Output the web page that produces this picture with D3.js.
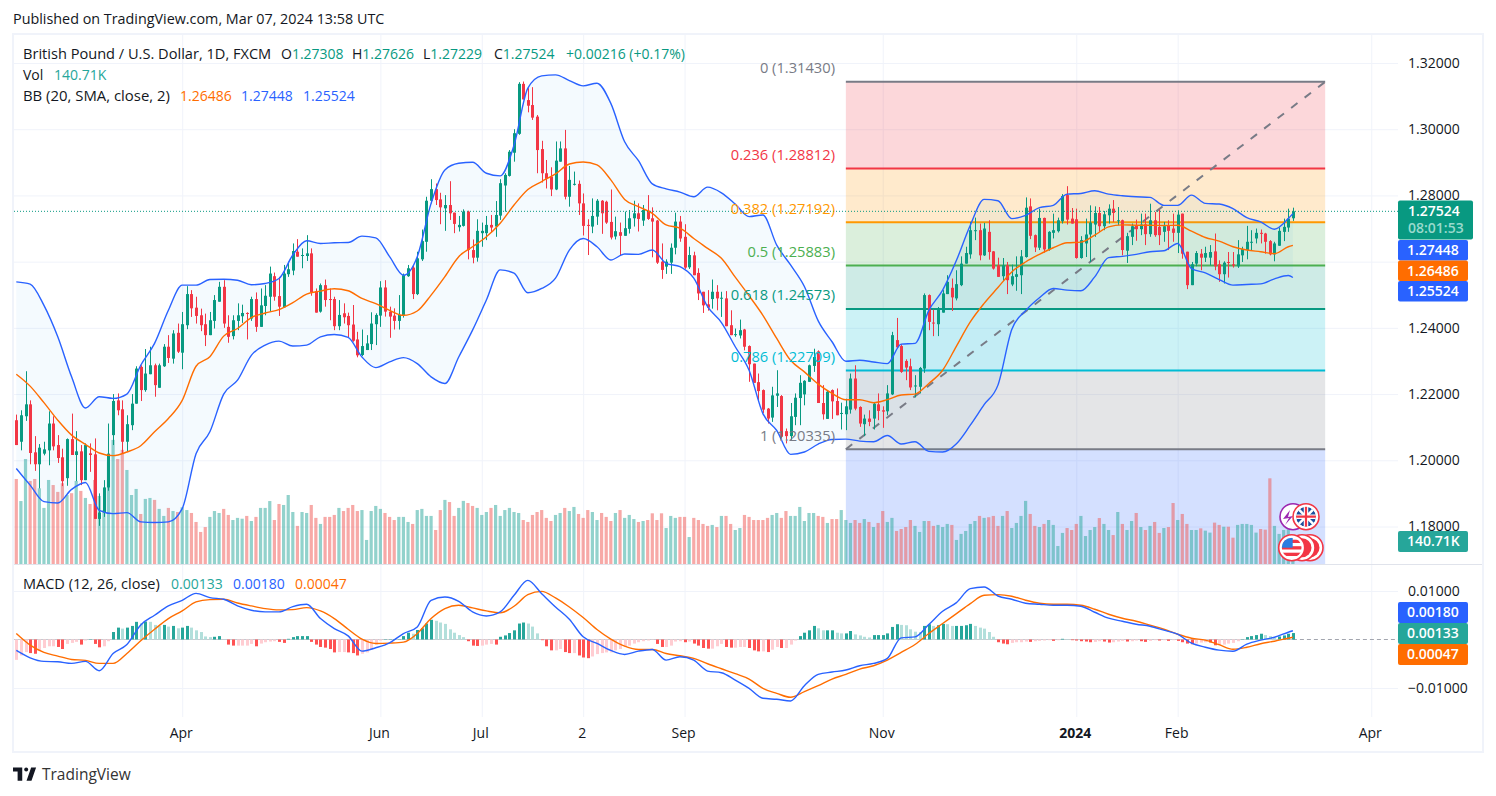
<!DOCTYPE html>
<html>
<head>
<meta charset="utf-8">
<title>GBP/USD daily</title>
<script src="https://cdnjs.cloudflare.com/ajax/libs/d3/7.8.5/d3.min.js"></script>
<style>
html,body{margin:0;padding:0;background:#fff;}
svg{display:block;font-family:"Open Sans",sans-serif;}
svg text{fill:#131722;font-size:14px;}
.tick line{stroke:#f0f3fa;}
.domain{display:none;}
</style>
</head>
<body>
<svg id="chart" width="1496" height="796"></svg>
<script>
// Daily OHLC in pips (price x 10000), oldest bar first.
const opens=[
12121,12056,12133,12169,12024,11988,12020,12030,12111,12046,
12009,11946,12064,12016,12027,11940,12021,12018,11823,11842,
11918,12076,12181,12154,12056,12106,12171,12282,12212,12260,
12287,12219,12284,12343,12307,12385,12325,12408,12502,12461,
12438,12411,12378,12421,12479,12524,12403,12375,12421,12435,
12445,12428,12487,12403,12466,12494,12556,12496,12462,12562,
12573,12630,12618,12617,12625,12511,12449,12529,12487,12487,
12405,12444,12436,12410,12365,12318,12333,12351,12411,12437,
12522,12449,12437,12421,12437,12556,12582,12502,12607,12660,
12784,12819,12788,12761,12771,12748,12704,12708,12751,12635,
12612,12686,12686,12711,12706,12739,12830,12859,12929,12986,
13137,13088,13073,13038,12940,12867,12857,12818,12902,12942,
12796,12833,12835,12776,12711,12706,12736,12784,12781,12720,
12676,12689,12678,12699,12731,12746,12724,12754,12731,12724,
12600,12585,12597,12642,12721,12675,12583,12619,12566,12509,
12471,12487,12509,12489,12489,12408,12379,12377,12395,12345,
12292,12236,12212,12156,12129,12195,12194,12088,12073,12131,
12188,12199,12237,12285,12329,12173,12125,12212,12179,12141,
12139,12153,12247,12161,12109,12126,12126,12169,12151,12148,
12199,12363,12345,12300,12284,12224,12222,12277,12499,12416,
12411,12446,12502,12521,12489,12529,12594,12622,12693,12695,
12619,12690,12631,12589,12556,12589,12531,12554,12559,12614,
12767,12680,12642,12732,12637,12687,12692,12722,12801,12730,
12728,12611,12655,12682,12712,12747,12707,12740,12760,12723,
12725,12633,12675,12708,12698,12713,12683,12725,12705,12690,
12708,12700,12687,12745,12630,12529,12594,12624,12612,12612,
12631,12592,12562,12599,12592,12586,12619,12635,12658,12670,
12687,12685,12662,12622,12648,12690,12703,12731];
const closes=[
12046,12136,12169,12022,11988,12038,12033,12111,12042,12007,
11937,12064,12016,12027,11940,12046,12016,11823,11842,11918,
12020,12179,12151,12056,12109,12171,12277,12212,12262,12287,
12227,12287,12343,12309,12383,12328,12411,12502,12459,12436,
12408,12378,12423,12484,12524,12413,12373,12423,12438,12445,
12443,12487,12403,12468,12497,12564,12494,12464,12564,12577,
12632,12615,12620,12625,12508,12446,12529,12484,12484,12405,
12439,12432,12408,12361,12317,12345,12353,12413,12439,12522,
12449,12434,12421,12439,12559,12580,12502,12610,12662,12784,
12819,12786,12764,12771,12746,12714,12711,12751,12635,12612,
12693,12693,12711,12703,12741,12837,12862,12932,12988,13137,
13090,13071,13035,12937,12867,12850,12818,12905,12942,12796,
12847,12835,12776,12708,12709,12738,12784,12746,12718,12673,
12692,12678,12701,12731,12746,12729,12756,12729,12721,12597,
12575,12600,12642,12721,12670,12582,12620,12559,12504,12468,
12461,12509,12489,12491,12405,12378,12381,12393,12343,12290,
12234,12209,12153,12126,12196,12202,12071,12073,12133,12189,
12234,12240,12287,12312,12173,12139,12207,12178,12136,12143,
12163,12247,12156,12111,12126,12116,12171,12149,12147,12202,
12378,12341,12267,12280,12220,12226,12279,12499,12418,12414,
12458,12504,12539,12492,12532,12594,12626,12695,12695,12619,
12700,12629,12579,12554,12589,12544,12556,12562,12616,12763,
12678,12643,12732,12637,12690,12695,12725,12798,12727,12715,
12611,12665,12682,12718,12747,12707,12743,12760,12747,12725,
12635,12677,12707,12698,12712,12683,12725,12680,12680,12707,
12693,12687,12742,12624,12529,12592,12626,12612,12626,12629,
12586,12562,12597,12597,12588,12622,12638,12660,12660,12687,
12685,12660,12622,12655,12693,12705,12730,12752];
const highs=[
12138,12151,12269,12181,12073,12049,12056,12148,12133,12076,
12035,12066,12141,12088,12046,12051,12051,12066,11900,11940,
12111,12200,12202,12181,12136,12200,12284,12287,12336,12343,
12292,12292,12351,12378,12393,12413,12448,12526,12514,12494,
12458,12443,12448,12499,12539,12544,12438,12438,12474,12470,
12447,12494,12507,12519,12529,12585,12567,12554,12590,12600,
12655,12668,12640,12680,12640,12519,12534,12546,12519,12494,
12484,12474,12446,12469,12388,12395,12378,12447,12444,12541,
12544,12464,12459,12499,12564,12590,12590,12630,12697,12796,
12849,12836,12808,12801,12843,12748,12738,12758,12754,12667,
12728,12718,12738,12741,12783,12849,12867,12937,13000,13142,
13144,13124,13127,13043,12965,12907,12885,12963,12963,12998,
12889,12872,12845,12806,12728,12791,12789,12786,12784,12818,
12736,12718,12751,12756,12784,12776,12771,12801,12764,12726,
12655,12607,12655,12748,12738,12713,12645,12630,12580,12509,
12514,12546,12529,12509,12511,12453,12398,12425,12397,12347,
12292,12262,12214,12158,12222,12272,12197,12096,12173,12202,
12257,12242,12289,12337,12332,12227,12212,12214,12217,12174,
12186,12262,12287,12163,12138,12151,12176,12202,12163,12227,
12388,12430,12351,12305,12307,12257,12282,12504,12501,12455,
12463,12514,12559,12549,12574,12616,12645,12720,12733,12715,
12717,12725,12632,12612,12611,12599,12591,12616,12635,12794,
12791,12682,12760,12733,12692,12745,12733,12804,12828,12762,
12760,12677,12730,12770,12767,12765,12753,12773,12786,12765,
12727,12687,12715,12727,12745,12745,12775,12750,12757,12720,
12725,12745,12755,12745,12630,12599,12632,12638,12645,12650,
12685,12604,12601,12629,12629,12665,12645,12708,12695,12700,
12697,12687,12665,12660,12703,12730,12760,12763];
const lows=[
12046,12030,12119,11988,11968,11915,12015,11985,12030,11992,
11922,11923,12016,11937,11925,11940,11965,11823,11802,11829,
11908,12046,12136,12020,12028,12091,12171,12179,12207,12260,
12192,12219,12282,12294,12292,12324,12275,12396,12433,12413,
12390,12345,12378,12398,12479,12400,12355,12365,12393,12415,
12365,12421,12388,12403,12438,12449,12482,12436,12461,12554,
12559,12615,12580,12602,12497,12446,12446,12464,12423,12393,
12393,12413,12371,12358,12311,12315,12333,12333,12348,12403,
12434,12370,12395,12395,12431,12554,12487,12499,12602,12630,
12776,12771,12713,12693,12726,12686,12691,12706,12607,12595,
12600,12645,12665,12688,12675,12726,12751,12857,12902,12983,
13090,13051,13028,12867,12839,12821,12798,12816,12902,12788,
12766,12830,12741,12679,12620,12686,12711,12684,12714,12667,
12667,12617,12678,12685,12706,12691,12708,12726,12613,12593,
12548,12563,12563,12622,12660,12578,12578,12559,12484,12445,
12452,12458,12453,12433,12405,12378,12373,12368,12332,12237,
12234,12181,12143,12111,12116,12161,12066,12051,12061,12106,
12106,12166,12237,12267,12173,12123,12125,12125,12136,12093,
12091,12141,12151,12101,12073,12103,12093,12121,12098,12136,
12197,12338,12264,12242,12212,12190,12202,12264,12393,12375,
12375,12446,12502,12451,12483,12526,12594,12609,12665,12604,
12617,12606,12576,12554,12542,12502,12526,12512,12502,12612,
12668,12629,12635,12627,12633,12670,12688,12715,12712,12715,
12609,12609,12614,12599,12675,12690,12695,12715,12720,12710,
12619,12596,12650,12663,12680,12650,12675,12675,12650,12660,
12635,12660,12626,12609,12517,12529,12586,12574,12599,12589,
12574,12539,12534,12552,12582,12581,12599,12607,12635,12655,
12655,12624,12619,12601,12648,12662,12690,12723];
// Traded volume per bar, in thousands.
const volumes=[
520,385,642,508,520,463,343,514,483,441,
494,422,433,508,447,404,367,514,416,330,
626,759,642,698,575,422,459,306,398,404,
392,337,294,343,324,318,347,330,312,257,
196,226,288,324,312,337,300,269,282,277,
294,263,288,343,343,385,269,367,361,422,
318,233,318,312,361,282,245,288,288,300,
343,324,343,361,324,330,147,324,355,337,
312,288,269,288,288,257,245,330,337,294,
294,208,330,392,379,294,343,386,373,355,
343,300,318,343,361,294,330,343,318,312,
269,257,300,318,330,282,263,300,312,343,
324,349,306,282,330,318,269,312,288,263,
312,330,282,300,275,257,263,269,310,269,
310,220,294,282,288,288,165,282,269,245,
233,239,226,294,294,245,208,220,300,288,
269,269,269,282,300,312,282,324,294,294,
349,263,312,312,294,288,251,275,275,330,
269,251,269,251,275,257,226,251,324,257,
282,202,214,226,269,233,196,263,263,233,
239,226,245,239,147,184,202,245,263,294,
282,286,294,233,294,324,220,251,294,386,
306,233,226,245,269,239,110,190,220,208,
245,294,171,208,226,281,245,208,177,318,
245,208,263,312,226,208,233,257,190,220,
226,373,269,306,245,208,208,218,204,192,
253,239,228,228,161,239,245,245,239,192,
214,210,524,233,184,208,212,140.71];
// Bollinger bands and MACD curves are read every third bar; these are their bar numbers.
const curveBars=d3.range(0,277,3).concat([277]);
const bbUpper=[
12539,12532,12468,12373,12252,12158,12192,12187,12200,12287,
12353,12453,12529,12529,12546,12547,12544,12530,12534,12549,
12620,12663,12655,12657,12658,12677,12672,12615,12559,12615,
12776,12877,12897,12900,12867,12859,12952,13124,13161,13164,
13147,13131,13139,13078,12962,12905,12835,12820,12810,12796,
12825,12808,12774,12736,12741,12650,12590,12525,12421,12358,
12299,12302,12297,12292,12351,12353,12453,12514,12604,12710,
12788,12784,12730,12740,12763,12770,12804,12806,12814,12804,
12799,12796,12794,12770,12770,12801,12776,12774,12760,12733,
12720,12698,12730,12745];
const bbBasis=[
12260,12224,12174,12121,12076,12048,12022,12014,12025,12044,
12086,12126,12181,12284,12313,12375,12398,12431,12445,12455,
12476,12502,12511,12518,12512,12489,12473,12453,12438,12451,
12499,12555,12615,12645,12675,12716,12771,12818,12842,12865,
12895,12901,12892,12847,12788,12766,12746,12711,12701,12670,
12640,12610,12553,12497,12438,12368,12302,12267,12230,12202,
12183,12183,12174,12183,12197,12200,12232,12272,12345,12418,
12474,12522,12569,12599,12622,12642,12657,12659,12680,12705,
12711,12710,12710,12709,12710,12692,12673,12662,12645,12635,
12630,12624,12645,12649];
const bbLower=[
11975,11925,11875,11871,11912,11933,11849,11839,11842,11814,
11812,11814,11854,12020,12086,12200,12242,12317,12348,12360,
12345,12348,12373,12380,12371,12312,12280,12297,12310,12292,
12252,12232,12312,12393,12484,12575,12565,12506,12519,12550,
12635,12670,12645,12605,12623,12622,12635,12595,12585,12550,
12464,12416,12343,12272,12141,12090,12018,12025,12049,12063,
12064,12058,12056,12075,12049,12056,12027,12025,12050,12106,
12168,12227,12395,12452,12491,12519,12514,12512,12554,12612,
12616,12622,12630,12633,12655,12579,12566,12546,12529,12531,
12533,12548,12558,12552];
// MACD pane, in units of 0.00001.
const macdLine=[
-226,-377,-452,-459,-493,-452,-644,-288,-103,301,
500,692,808,952,863,829,692,603,569,569,
678,726,432,226,75,-240,-171,-68,123,260,
808,877,788,569,486,569,911,1219,945,671,
418,55,-82,-226,-308,-240,-205,-425,-356,-425,
-651,-685,-836,-1007,-1212,-1233,-1267,-952,-719,-671,
-630,-541,-493,-390,34,55,308,582,760,1048,
1082,897,830,748,727,707,707,686,562,439,
377,315,274,192,109,-76,-159,-220,-241,-97,
-14,47,150,180];
const signalLine=[
123,-116,-267,-342,-411,-431,-493,-493,-288,-27,
212,432,589,774,822,829,753,692,637,610,
616,658,589,432,212,7,-82,-75,-55,123,
432,637,706,651,589,548,685,925,993,856,
671,452,205,7,-137,-205,-205,-288,-336,-390,
-500,-603,-705,-815,-1007,-1110,-1192,-1075,-952,-815,
-719,-610,-541,-425,-267,-103,123,329,534,740,
911,925,892,810,748,727,727,707,624,521,
439,377,295,212,109,27,-14,-107,-200,-159,
-87,-35,27,47];
const histogram=[
-420,-329,-259,-280,-294,-224,-175,-140,-140,-154,
-196,-91,-70,-49,-105,-21,7,-91,-161,-140,
-35,154,245,224,245,280,364,336,371,364,
301,280,301,266,280,231,245,280,245,189,
154,63,49,56,70,7,-105,-126,-126,-126,
-126,-91,-140,-84,-56,-42,-35,-49,-70,14,
49,70,70,70,-49,-105,-154,-168,-196,-266,
-259,-259,-266,-280,-329,-294,-266,-210,-105,-21,
7,7,7,7,70,140,119,196,231,329,
406,385,350,322,210,140,91,49,-35,-126,
-133,-126,-105,-91,-105,56,84,133,189,329,
350,329,266,126,-14,-140,-224,-224,-196,-259,
-280,-280,-329,-371,-385,-350,-301,-280,-266,-266,
-224,-196,-154,-126,-84,-56,-35,-21,-7,-91,
-154,-154,-126,-42,-35,-56,-42,-84,-126,-175,
-189,-189,-140,-91,-154,-168,-168,-154,-154,-175,
-224,-245,-245,-259,-210,-154,-175,-175,-105,-21,
70,140,189,280,231,189,189,189,140,126,
126,175,105,84,56,42,91,91,91,126,
259,315,301,294,210,161,154,280,315,280,
294,322,315,280,280,280,294,322,280,245,
224,154,56,-56,-84,-98,-70,-56,-56,-42,
-49,-35,-28,-21,-14,-28,-14,14,7,-14,
-21,-35,-42,-56,-49,-35,-42,-63,-56,-42,
-28,-42,-35,-21,-35,-49,-28,-14,-21,-14,
-28,-14,-28,-56,-84,-98,-84,-63,-56,-63,
-119,-119,-105,-84,-70,-35,7,49,70,91,
119,91,70,42,63,84,119,133];
// Fibonacci retracement levels, with the two bars the tool is anchored to.
const fibRatios=["0","0.236","0.382","0.5","0.618","0.786","1"];
const fibPrices=[1.31430,1.28812,1.27192,1.25883,1.24573,1.22709,1.20335];
const fibLineColors=["#787b86","#f23645","#ff9800","#4caf50","#089981","#00bcd4","#787b86"];
const fibFillColors=["#f23645","#ff9800","#4caf50","#089981","#00bcd4","#787b86","#2962ff"];
const fibBars=[180,284];
// Axis ticks; the 1.26 label sits under the value tags and stays unlabelled.
const priceTicks=[1.18,1.20,1.22,1.24,1.26,1.28,1.30,1.32];
const macdTicks=[-0.01,0.01];
const timeTickBars=[36,79,101,123,145,188,230,252,294];
const timeTickLabels=["Apr","Jun","Jul","2","Sep","Nov","2024","Feb","Apr"];

const GREEN="#089981",RED="#f23645",BLUE="#2962ff",ORANGE="#ff6d00",TEAL="#26a69a",INK="#131722";
const plot={left:14,right:1398,top:35,paneEnd:564,macdEnd:717};
const svg=d3.select("#chart");
const barCount=closes.length;
const x=d3.scaleLinear().domain([0,barCount-1]).range([16.3,1292.9]);
const y=d3.scaleLinear().domain([1.18,1.32]).range([526.5,63]);
const yPip=p=>y(p/10000);
const yVol=d3.scaleLinear().domain([0,1000]).range([plot.paneEnd,400.5]);
const yMacd=d3.scaleLinear().domain([-0.01,0.01]).range([688,591]);
const yM=v=>yMacd(v/100000);

const defs=svg.append("defs");
defs.append("clipPath").attr("id","plotClip").append("rect")
  .attr("x",plot.left).attr("y",plot.top).attr("width",plot.right-plot.left).attr("height",plot.paneEnd-plot.top);
defs.append("clipPath").attr("id","macdClip").append("rect")
  .attr("x",plot.left).attr("y",plot.paneEnd).attr("width",plot.right-plot.left).attr("height",plot.macdEnd-plot.paneEnd);

// Grid lines come from axes with long ticks.
const grid=svg.append("g");
grid.append("g").attr("transform",`translate(${plot.right},0)`)
  .call(d3.axisLeft(y).tickValues(priceTicks).tickFormat("").tickSize(plot.right-plot.left));
grid.append("g").attr("transform",`translate(${plot.right},0)`)
  .call(d3.axisLeft(yMacd).tickValues(macdTicks).tickFormat("").tickSize(plot.right-plot.left));
grid.append("g").attr("transform",`translate(0,${plot.macdEnd})`)
  .call(d3.axisTop(x).tickValues(timeTickBars).tickFormat("").tickSize(plot.macdEnd-plot.top));

const main=svg.append("g").attr("clip-path","url(#plotClip)");

// Fibonacci zones; the last one runs down to the pane edge.
fibFillColors.forEach((c,k)=>{
  const top=y(fibPrices[k]);
  const bottom=k<fibPrices.length-1?y(fibPrices[k+1]):plot.paneEnd;
  main.append("rect").attr("x",x(fibBars[0])).attr("width",x(fibBars[1])-x(fibBars[0]))
    .attr("y",top).attr("height",bottom-top).attr("fill",c).attr("fill-opacity",0.2);
});
main.selectAll("line.fib").data(fibPrices).join("line").attr("class","fib")
  .attr("x1",x(fibBars[0])).attr("x2",x(fibBars[1]))
  .attr("y1",d=>y(d)).attr("y2",d=>y(d))
  .attr("stroke",(d,k)=>fibLineColors[k]).attr("stroke-width",2);

// Volume columns.
main.selectAll("rect.vol").data(volumes).join("rect").attr("class","vol")
  .attr("x",(d,i)=>x(i)-1.6).attr("width",3.2)
  .attr("y",d=>yVol(d)).attr("height",d=>plot.paneEnd-yVol(d))
  .attr("fill",(d,i)=>closes[i]>=opens[i]?TEAL:"#ef5350").attr("fill-opacity",0.5);

// Band fill between upper and lower Bollinger curves.
main.append("path").attr("d",d3.area().curve(d3.curveMonotoneX).x(d=>x(d)).y0((d,k)=>yPip(bbLower[k])).y1((d,k)=>yPip(bbUpper[k]))(curveBars))
  .attr("fill","#2196f3").attr("fill-opacity",0.05);

// Dashed diagonal of the retracement tool.
main.append("line")
  .attr("x1",x(fibBars[0])).attr("y1",y(fibPrices[6]))
  .attr("x2",x(fibBars[1])).attr("y2",y(fibPrices[0]))
  .attr("stroke","#787b86").attr("stroke-width",2).attr("stroke-dasharray","8 9");

// Candles: wick then body.
const candle=main.selectAll("g.candle").data(closes).join("g").attr("class","candle");
const barColor=(d,i)=>d>=opens[i]?GREEN:RED;
candle.append("line")
  .attr("x1",(d,i)=>Math.round(x(i))+0.5).attr("x2",(d,i)=>Math.round(x(i))+0.5)
  .attr("y1",(d,i)=>yPip(highs[i])).attr("y2",(d,i)=>yPip(lows[i]))
  .attr("stroke",barColor);
candle.append("rect")
  .attr("x",(d,i)=>Math.round(x(i))-1).attr("width",3)
  .attr("y",(d,i)=>yPip(Math.max(opens[i],d)))
  .attr("height",(d,i)=>Math.max(1,Math.abs(yPip(opens[i])-yPip(d))))
  .attr("fill",barColor);

// Bollinger curves.
const curve=(values,scale)=>d3.line().curve(d3.curveMonotoneX).x(d=>x(d)).y((d,k)=>scale(values[k]))(curveBars);
[[bbUpper,BLUE],[bbLower,BLUE],[bbBasis,ORANGE]].forEach(([vals,c])=>{
  main.append("path").attr("d",curve(vals,yPip)).attr("fill","none").attr("stroke",c).attr("stroke-width",1.4);
});

// Last price marker.
svg.append("line").attr("x1",plot.left).attr("x2",plot.right)
  .attr("y1",yPip(closes[barCount-1])).attr("y2",yPip(closes[barCount-1]))
  .attr("stroke",GREEN).attr("stroke-dasharray","1 2");

// Level captions.
svg.selectAll("text.fib").data(fibPrices).join("text").attr("class","fib")
  .attr("x",835).attr("y",d=>y(d)-8.5).attr("text-anchor","end")
  .style("fill",(d,k)=>fibLineColors[k]).style("font-size","14.7px")
  .text((d,k)=>`${fibRatios[k]} (${d.toFixed(5)})`);

// MACD pane.
const macdPane=svg.append("g").attr("clip-path","url(#macdClip)");
macdPane.append("line").attr("x1",x(barCount-1)).attr("x2",plot.right)
  .attr("y1",yM(0)).attr("y2",yM(0)).attr("stroke","#a3a6af").attr("stroke-dasharray","4 3");
macdPane.append("line").attr("x1",plot.left).attr("x2",x(barCount-1))
  .attr("y1",yM(0)).attr("y2",yM(0)).attr("stroke","#c8cad0");
const histColor=(d,i)=>{
  const prev=i?histogram[i-1]:d;
  if(d>=0) return d>=prev?TEAL:"#b2dfdb";
  return d<prev?"#ff5252":"#ffcdd2";
};
macdPane.selectAll("rect.hist").data(histogram).join("rect").attr("class","hist")
  .attr("x",(d,i)=>Math.round(x(i))-1).attr("width",3)
  .attr("y",d=>Math.min(yM(d),yM(0))).attr("height",d=>Math.abs(yM(d)-yM(0)))
  .attr("fill",histColor);
macdPane.append("path").attr("d",curve(signalLine,yM)).attr("fill","none").attr("stroke",ORANGE).attr("stroke-width",1.4);
macdPane.append("path").attr("d",curve(macdLine,yM)).attr("fill","none").attr("stroke",BLUE).attr("stroke-width",1.4);

// Pane separator and outer frame.
svg.append("line").attr("x1",plot.left).attr("x2",1483).attr("y1",plot.paneEnd+0.5).attr("y2",plot.paneEnd+0.5).attr("stroke","#e0e3eb");
svg.append("rect").attr("x",13).attr("y",34).attr("width",1470).attr("height",718)
  .attr("fill","none").attr("stroke","#f0f3fa").attr("stroke-width",2);

// Right-hand and bottom axes.
const priceAxis=svg.append("g").attr("transform",`translate(${plot.right},0)`)
  .call(d3.axisRight(y).tickValues(priceTicks).tickSize(0).tickPadding(10)
    .tickFormat(d=>Math.abs(d-1.26)<1e-9?"":d3.format(".5f")(d)));
const macdAxis=svg.append("g").attr("transform",`translate(${plot.right},0)`)
  .call(d3.axisRight(yMacd).tickValues(macdTicks).tickSize(0).tickPadding(10).tickFormat(d=>d<0?"\u2212"+d3.format(".5f")(-d):d3.format(".5f")(d)));
const timeAxis=svg.append("g").attr("transform",`translate(0,${plot.macdEnd})`)
  .call(d3.axisBottom(x).tickValues(timeTickBars).tickSize(0).tickPadding(11).tickFormat(d=>timeTickLabels[timeTickBars.indexOf(d)]));
[priceAxis,macdAxis,timeAxis].forEach(a=>a.selectAll("text").style("font-size","14px").style("font-family","'Open Sans',sans-serif").style("fill",INK));
timeAxis.selectAll("text").attr("dx",-1.5);
timeAxis.selectAll("text").filter(d=>timeTickLabels[timeTickBars.indexOf(d)]==="2024").style("font-weight",700);

// Value tags on the price scale.
const tag=(top,h,w,color,lines)=>{
  svg.append("rect").attr("x",plot.right).attr("y",top).attr("width",w).attr("height",h).attr("rx",2).attr("fill",color);
  lines.forEach(l=>svg.append("text").attr("x",plot.right+(w===75?10:9)).attr("y",l.y).style("fill",l.fill||"#fff").style("font-size","14px").style("font-weight",600).text(l.t));
};
tag(200.5,39,75,GREEN,[{t:"1.27524",y:216},{t:"08:01:53",y:233,fill:"#9adacd"}]);
tag(240,20.5,70,BLUE,[{t:"1.27448",y:255}]);
tag(260.5,20.5,70,ORANGE,[{t:"1.26486",y:276}]);
tag(281,20.5,70,BLUE,[{t:"1.25524",y:296}]);
tag(531,21,70,TEAL,[{t:"140.71K",y:546}]);
tag(602,21,70,BLUE,[{t:"0.00180",y:617}]);
tag(623,21,70,TEAL,[{t:"0.00133",y:638}]);
tag(644,21,70,ORANGE,[{t:"0.00047",y:659}]);

// Legends and titles.
const write=(tx,ty,t,fill,size)=>svg.append("text").attr("x",tx).attr("y",ty).style("fill",fill||INK).style("font-size",(size||14)+"px").text(t);
write(13,24,"Published on TradingView.com, Mar 07, 2024 13:58 UTC",INK,14.35);
write(23,59,"British Pound / U.S. Dollar, 1D, FXCM",INK,14.6);
[[281,"O","1.27308"],[352,"H","1.27626"],[423,"L","1.27229"],[494,"C","1.27524"]].forEach(([px,k,v])=>{
  const lab=write(px,59,k);
  lab.append("tspan").style("fill",GREEN).text(v);
});
write(566,59,"+0.00216 (+0.17%)",GREEN);
write(23,80,"Vol");
write(54,80,"140.71K",TEAL);
write(23,101,"BB (20, SMA, close, 2)",INK,14.9);
write(180,101,"1.26486",ORANGE);
write(241,101,"1.27448",BLUE);
write(303,101,"1.25524",BLUE);
write(23,589,"MACD (12, 26, close)",INK,14.5);
write(171,589,"0.00133",TEAL);
write(233,589,"0.00180",BLUE);
write(295,589,"0.00047",ORANGE);

// Wordmark in the page footer.
const logo=svg.append("g").attr("transform","translate(13,767.5) scale(0.66)").attr("fill",INK);
logo.append("path").attr("d","M14 0H0v6h7v14h7zM28 20h-7.5L27.5 0H35z");
logo.append("circle").attr("cx",20).attr("cy",3).attr("r",3);
svg.append("text").attr("x",42).attr("y",780).style("font-size","15.5px").style("fill","#333").text("TradingView");

// Economic event badges on the last bars.
const events=svg.append("g");
const clipFor=(id,cx,cy,r)=>defs.append("clipPath").attr("id",id).append("circle").attr("cx",cx).attr("cy",cy).attr("r",r);
const ring=(cx,cy,r,stroke)=>events.append("circle").attr("cx",cx).attr("cy",cy).attr("r",r).attr("fill","#fff").attr("stroke",stroke).attr("stroke-width",1.6);
// Stacked dollar badges behind the front one.
[1310,1302].forEach(cx=>{
  ring(cx,547.7,13,RED);
  events.append("circle").attr("cx",cx).attr("cy",547.7).attr("r",9.5).attr("fill",RED);
});
const usFlag=(cx,cy)=>{
  ring(cx,cy,13,RED);
  clipFor("usClip",cx,cy,10);
  const f=events.append("g").attr("clip-path","url(#usClip)");
  f.append("circle").attr("cx",cx).attr("cy",cy).attr("r",10).attr("fill","#fff");
  d3.range(0,3).forEach(k=>f.append("rect").attr("x",cx-10).attr("y",cy-8+k*6.5).attr("width",20).attr("height",3.3).attr("fill",RED));
  f.append("rect").attr("x",cx-10).attr("y",cy-10).attr("width",11).attr("height",10).attr("fill","#2a7de1");
};
usFlag(1291.7,547.7);
// Lightning badge and pound badge.
ring(1293,516.7,13,"#9c27b0");
events.append("path").attr("d","M1290 510L1283 519L1289 518L1285 525L1293 516L1288 517Z").attr("fill","#9c27b0");
ring(1306,516.7,13,RED);
clipFor("ukClip",1306,516.7,10);
const uk=events.append("g").attr("clip-path","url(#ukClip)");
uk.append("circle").attr("cx",1306).attr("cy",516.7).attr("r",10).attr("fill","#1c4f9c");
uk.append("path").attr("d","M1296 506.7L1316 526.7M1316 506.7L1296 526.7").attr("stroke","#fff").attr("stroke-width",2.5);
uk.append("path").attr("d","M1306 506V527M1295 516.7H1317").attr("stroke","#fff").attr("stroke-width",4.5);
uk.append("path").attr("d","M1306 506V527M1295 516.7H1317").attr("stroke",RED).attr("stroke-width",2.2);
</script>
</body>
</html>
